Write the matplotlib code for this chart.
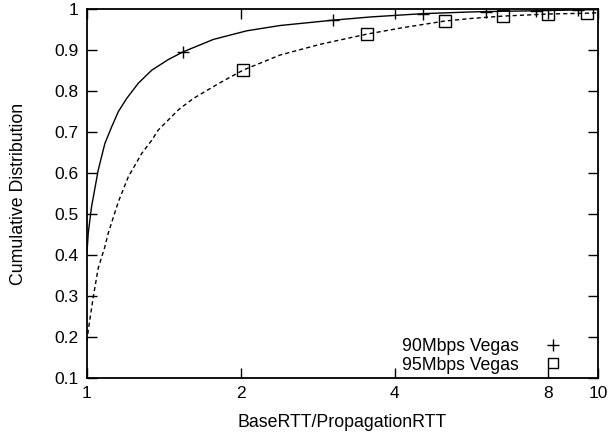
import matplotlib
matplotlib.use("Agg")
import matplotlib.pyplot as plt
from matplotlib.lines import Line2D
from matplotlib.ticker import FixedLocator, FixedFormatter, NullLocator

plt.rcParams['font.family'] = ['Liberation Sans', 'DejaVu Sans']

# curve 1: 90Mbps Vegas
x90 = [1.0, 1.006, 1.021, 1.052, 1.084, 1.118, 1.152, 1.196, 1.26, 1.339, 1.443, 1.544,
       1.767, 2.053, 2.387, 3.03, 3.6, 4.55, 5.62, 6.04, 7.56, 9.14, 10.0]
y90 = [0.405, 0.454, 0.518, 0.607, 0.672, 0.713, 0.750, 0.782, 0.819, 0.851, 0.877, 0.896,
       0.926, 0.947, 0.960, 0.973, 0.981, 0.989, 0.993, 0.994, 0.996, 0.998, 0.999]
marks90 = [11, 15, 17, 19, 20, 21]

# curve 2: 95Mbps Vegas
x95 = [1.0, 1.006, 1.029, 1.052, 1.084, 1.101, 1.152, 1.205, 1.28, 1.339, 1.379, 1.509,
       1.615, 1.807, 2.02, 2.387, 2.857, 3.53, 4.16, 5.02, 5.62, 6.52, 7.98, 9.52, 10.0]
y95 = [0.19, 0.217, 0.298, 0.368, 0.42, 0.454, 0.530, 0.591, 0.648, 0.68, 0.705, 0.754,
       0.782, 0.818, 0.851, 0.888, 0.914, 0.939, 0.955, 0.971, 0.977, 0.983, 0.988, 0.99, 0.991]
marks95 = [14, 17, 19, 21, 22, 23]

xticks = [1, 2, 4, 8, 10]
yticks = [0.1, 0.2, 0.3, 0.4, 0.5, 0.6, 0.7, 0.8, 0.9, 1.0]
ylabels = ['0.1', '0.2', '0.3', '0.4', '0.5', '0.6', '0.7', '0.8', '0.9', '1']

fig = plt.figure(figsize=(6.08, 4.34), dpi=100)
ax = fig.add_axes([0.143, 0.129, 0.8406, 0.85])

ax.plot(x90, y90, color='black', lw=1.0, ls='-', marker='+', markersize=8.5,
        markeredgewidth=1.0, markevery=marks90)
ax.plot(x95, y95, color='black', lw=1.0, ls=(0, (3, 2.2)), marker='s', markersize=8.5,
        markerfacecolor='none', markeredgewidth=1.0, markevery=marks95)

ax.set_xscale('log')
ax.set_xlim(1, 10)
ax.set_ylim(0.1, 1)
ax.xaxis.set_major_locator(FixedLocator(xticks))
ax.xaxis.set_major_formatter(FixedFormatter([str(t) for t in xticks]))
ax.xaxis.set_minor_locator(NullLocator())
ax.yaxis.set_major_locator(FixedLocator(yticks))
ax.yaxis.set_major_formatter(FixedFormatter(ylabels))

ax.tick_params(direction='in', length=7, width=1, top=True, right=True,
               labelsize=12.5, pad=6)
for s in ax.spines.values():
    s.set_linewidth(1.3)

ax.set_xlabel('BaseRTT/PropagationRTT', fontsize=12.8, labelpad=9)
ax.set_ylabel('Cumulative Distribution', fontsize=12.8, labelpad=20)

handles = [
    Line2D([], [], ls='none', marker='+', color='black', markersize=9, markeredgewidth=1.0),
    Line2D([], [], ls='none', marker='s', color='black', markerfacecolor='none',
           markersize=6.5, markeredgewidth=1.0),
]
ax.legend(handles, ['90Mbps Vegas', '95Mbps Vegas'], loc='lower right',
          markerfirst=False, frameon=False, fontsize=12.7, handlelength=1.0,
          handletextpad=1.45, labelspacing=0.08, borderaxespad=0.1,
          bbox_to_anchor=(0.946, -0.012))

fig.savefig('out.png', dpi=100)
